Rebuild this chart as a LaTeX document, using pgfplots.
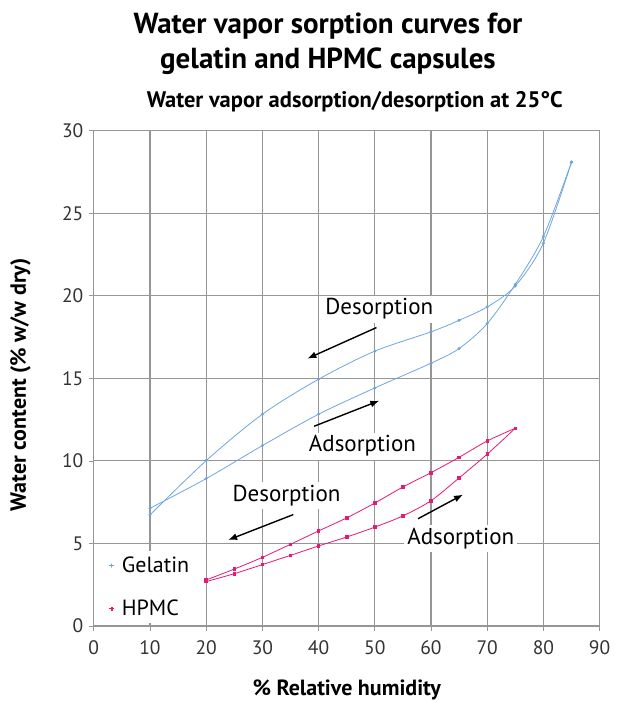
\documentclass[border=0pt]{standalone}
\usepackage{pgfplots}
\pgfplotsset{compat=1.18}
\usetikzlibrary{arrows.meta}
\usepackage{fontspec}
\setmainfont{PT Sans}
\definecolor{gelblue}{RGB}{110,165,225}
\definecolor{hpmcpink}{RGB}{230,25,120}
\definecolor{gridgray}{RGB}{150,150,150}
\begin{document}
\begin{tikzpicture}
\begin{axis}[
  name=ax,
  scale only axis,
  width=505.8pt, height=495.2pt,
  xmin=0, xmax=90, ymin=0, ymax=30,
  xtick={0,10,...,90}, ytick={0,5,...,30},
  grid=major,
  major grid style={gridgray, line width=1.1pt},
  axis line style={gridgray, line width=1.1pt},
  axis x line*=bottom, axis y line*=left,
  tick align=outside, major tick length=5pt,
  tick style={gridgray, line width=0.8pt},
  /pgf/number format/assume math mode=true,
  tick label style={font=\fontsize{19.5}{22}\selectfont, text=black!80},
  xticklabel style={yshift=-6pt},
  yticklabel style={xshift=-2pt},
  clip=false,
  legend style={at={(0.02,0.005)}, anchor=south west, draw=none, fill=white,
     font=\fontsize{22}{26}\selectfont, row sep=22pt, inner sep=4pt,
     /tikz/every odd column/.append style={column sep=5pt}},
  legend image post style={xscale=0.35},
  legend cell align=left,
]
% Gelatin adsorption
\addplot[gelblue, line width=0.8pt, smooth, mark=*, mark size=1.1pt] coordinates {
 (10,7.13) (20,8.93) (30,10.93) (40,12.83) (50,14.42) (60,15.92) (65,16.81) (70,18.32) (75,20.7) (80,23.6) (85,28.1)};
\addlegendentry{Gelatin}
% HPMC adsorption
\addplot[hpmcpink, line width=0.8pt, smooth, mark=square*, mark size=1.3pt] coordinates {
 (20,2.69) (25,3.17) (30,3.72) (35,4.28) (40,4.85) (45,5.39) (50,5.99) (55,6.67) (60,7.59) (65,8.97) (70,10.41) (75,11.98)};
\addlegendentry{HPMC}
% Gelatin desorption
\addplot[gelblue, line width=0.8pt, smooth, mark=*, mark size=1.1pt, forget plot] coordinates {
 (85,28.1) (80,23.2) (75,20.6) (70,19.33) (65,18.52) (60,17.82) (50,16.65) (40,14.95) (30,12.83) (20,10.02) (10,6.73)};
% HPMC desorption
\addplot[hpmcpink, line width=0.8pt, smooth, mark=square*, mark size=1.3pt, forget plot] coordinates {
 (75,11.98) (70,11.21) (65,10.22) (60,9.29) (55,8.42) (50,7.45) (45,6.55) (40,5.76) (35,4.95) (30,4.16) (25,3.45) (20,2.79)};
% annotations
\node[fill=white, inner sep=3pt, font=\fontsize{23}{26}\selectfont] at (axis cs:50.8,19.2) {Desorption};
\draw[-{Latex[length=9pt,width=7pt]}, line width=1.4pt] (axis cs:50.3,18.08) -- (axis cs:38,16.2);
\node[fill=white, inner sep=3pt, font=\fontsize{23}{26}\selectfont] at (axis cs:47.8,10.9) {Adsorption};
\draw[-{Latex[length=9pt,width=7pt]}, line width=1.4pt] (axis cs:39.2,12.1) -- (axis cs:50.8,13.65);
\node[fill=white, inner sep=3pt, font=\fontsize{23}{26}\selectfont] at (axis cs:34.3,7.9) {Desorption};
\draw[-{Latex[length=9pt,width=7pt]}, line width=1.4pt] (axis cs:35.5,6.75) -- (axis cs:23.9,5.21);
\node[fill=white, inner sep=3pt, font=\fontsize{23}{26}\selectfont] at (axis cs:65.3,5.3) {Adsorption};
\draw[-{Latex[length=9pt,width=7pt]}, line width=1.4pt] (axis cs:57.7,6.5) -- (axis cs:65.7,7.96);
% titles
\node[font=\bfseries\fontsize{29}{35}\selectfont, align=center] at (rel axis cs:0.463,1.175) {Water vapor sorption curves for\\gelatin and HPMC capsules};
\node[font=\bfseries\fontsize{22.5}{26}\selectfont] at (rel axis cs:0.516,1.058) {Water vapor adsorption/desorption at 25\textdegree C};
\node[font=\bfseries\fontsize{22}{26}\selectfont] at (rel axis cs:0.5,-0.13) {\% Relative humidity};
\node[font=\bfseries\fontsize{22}{26}\selectfont, rotate=90] at (rel axis cs:-0.145,0.487) {Water content (\% w/w dry)};
\end{axis}
\pgfresetboundingbox
\path[use as bounding box] ([xshift=-93.8pt,yshift=-78pt]ax.south west) rectangle ([xshift=31.4pt,yshift=130.8pt]ax.north east);
\end{tikzpicture}
\end{document}
